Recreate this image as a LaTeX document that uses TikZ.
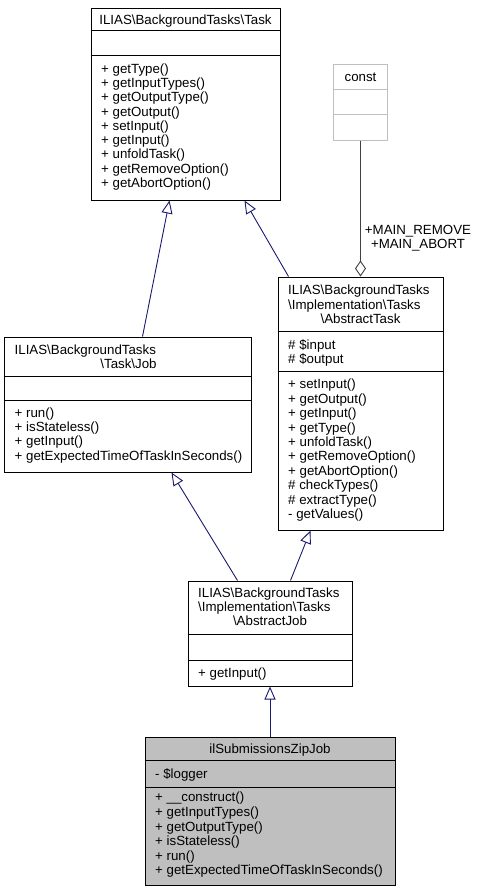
\documentclass[tikz,border=0pt]{standalone}
\usepackage{fontspec}
\setmainfont{Liberation Sans}
\usetikzlibrary{arrows.meta}
\definecolor{navy}{HTML}{191970}
\definecolor{constgray}{HTML}{BFBFBF}
\definecolor{zipgray}{HTML}{BFBFBF}
\definecolor{agggray}{HTML}{404040}
\newcommand\classrows[5]{%
  \foreach \t [count=\i from 0] in {#5} {%
    \node[txt,anchor=base west] (#1\i) at (#2,{#3+\i*#4}) {\t};}}
\begin{document}
\begin{tikzpicture}[x=1pt,y=-1pt,
  txt/.style={inner sep=0pt,font=\fontsize{13.3}{14.3}\selectfont},
  cls/.style={draw=black,line width=1pt,inner sep=0pt,fill=white},
  sep/.style={draw=black,line width=1pt},
  inherit/.style={draw=navy,line width=0.9pt,-{Triangle[open,length=13pt,width=11pt]}},
  agg/.style={draw=agggray,line width=0.9pt,-{Diamond[open,length=16pt,width=11pt]}}]
\useasboundingbox (0,0) rectangle (478,892);
% ---------------- Task
\node[cls,minimum width=189,minimum height=192] (task) at (185.5,104) {};
\draw[sep] ([yshift=-23]task.north west) -- ([yshift=-23]task.north east);
\draw[sep] ([yshift=-48]task.north west) -- ([yshift=-48]task.north east);
\node[txt,anchor=base] (tasktitle) at (185.5,24.1) {ILIAS\textbackslash BackgroundTasks\textbackslash Task};
\classrows{taskm}{101}{73.3}{14.25}{+ getType(),+ getInputTypes(),+ getOutputType(),+ getOutput(),+ setInput(),+ getInput(),+ unfoldTask(),+ getRemoveOption(),+ getAbortOption()}
% ---------------- const
\node[cls,draw=constgray,minimum width=54,minimum height=76] (const) at (360.5,102) {};
\draw[sep,draw=constgray] ([yshift=-26]const.north west) -- ([yshift=-26]const.north east);
\draw[sep,draw=constgray] ([yshift=-51]const.north west) -- ([yshift=-51]const.north east);
\node[txt,anchor=base] (consttitle) at (360.5,81.5) {const};
% ---------------- AbstractTask
\node[cls,minimum width=165,minimum height=253] (atask) at (360.5,403.5) {};
\draw[sep] ([yshift=-55]atask.north west) -- ([yshift=-55]atask.north east);
\draw[sep] ([yshift=-95]atask.north west) -- ([yshift=-95]atask.north east);
\node[txt,anchor=base west] (atasktitleA) at (288,294.8) {ILIAS\textbackslash BackgroundTasks};
\node[txt,anchor=base west] (atasktitleB) at (288,309.1) {\textbackslash Implementation\textbackslash Tasks};
\node[txt,anchor=base] (atasktitleC) at (360.5,323.4) {\textbackslash AbstractTask};
\classrows{atanattr}{288}{349}{14.3}{\# \$input,\# \$output}
\classrows{atasm}{288}{388.8}{14.4}{+ setInput(),+ getOutput(),+ getInput(),+ getType(),+ unfoldTask(),+ getRemoveOption(),+ getAbortOption(),\# checkTypes(),\# extractType(),- getValues()}
% ---------------- Job
\node[cls,minimum width=247,minimum height=135] (job) at (127.5,404.5) {};
\draw[sep] ([yshift=-40]job.north west) -- ([yshift=-40]job.north east);
\draw[sep] ([yshift=-64]job.north west) -- ([yshift=-64]job.north east);
\node[txt,anchor=base west] (jobtitleA) at (14.5,354) {ILIAS\textbackslash BackgroundTasks};
\node[txt,anchor=base] (jobtitleB) at (128.5,368.5) {\textbackslash Task\textbackslash Job};
\classrows{jobm}{14.5}{417.5}{14.2}{+ run(),+ isStateless(),+ getInput(),+ getExpectedTimeOfTaskInSeconds()}
% ---------------- AbstractJob
\node[cls,minimum width=164,minimum height=105] (ajob) at (270,633.5) {};
\draw[sep] ([yshift=-54]ajob.north west) -- ([yshift=-54]ajob.north east);
\draw[sep] ([yshift=-80]ajob.north west) -- ([yshift=-80]ajob.north east);
\node[txt,anchor=base west] (ajobtitleA) at (198,597) {ILIAS\textbackslash BackgroundTasks};
\node[txt,anchor=base west] (ajobtitleB) at (198,611.3) {\textbackslash Implementation\textbackslash Tasks};
\node[txt,anchor=base] (ajobtitleC) at (270,625.6) {\textbackslash AbstractJob};
\node[txt,anchor=base west] (ajobm0) at (198,677) {+ getInput()};
% ---------------- ilSubmissionsZipJob
\node[cls,fill=zipgray,minimum width=250,minimum height=148] (zip) at (270,811) {};
\draw[sep] ([yshift=-24]zip.north west) -- ([yshift=-24]zip.north east);
\draw[sep] ([yshift=-51]zip.north west) -- ([yshift=-51]zip.north east);
\node[txt,anchor=base] (ziptitle) at (270,753.5) {ilSubmissionsZipJob};
\node[txt,anchor=base west] (zipattr0) at (155,778) {- \$logger};
\classrows{zipm}{155}{801.8}{14.6}{+ \_\_construct(),+ getInputTypes(),+ getOutputType(),+ isStateless(),+ run(),+ getExpectedTimeOfTaskInSeconds()}
% ---------------- connectors
\draw[inherit] ([xshift=139]job.north west) -- ([xshift=79]task.south west);
\draw[inherit] ([xshift=11]atask.north west) -- ([xshift=154]task.south west);
\draw[inherit] ([xshift=50]ajob.north west) -- ([xshift=168]job.south west);
\draw[inherit] ([xshift=103]ajob.north west) -- ([xshift=33]atask.south west);
\draw[inherit] (zip.north) -- (ajob.south);
\draw[agg] (const.south) -- (atask.north);
\node[txt,anchor=base] (lblA) at (418,234.7) {+MAIN\_REMOVE};
\node[txt,anchor=base] (lblB) at (418,248.7) {+MAIN\_ABORT};
\end{tikzpicture}
\end{document}
